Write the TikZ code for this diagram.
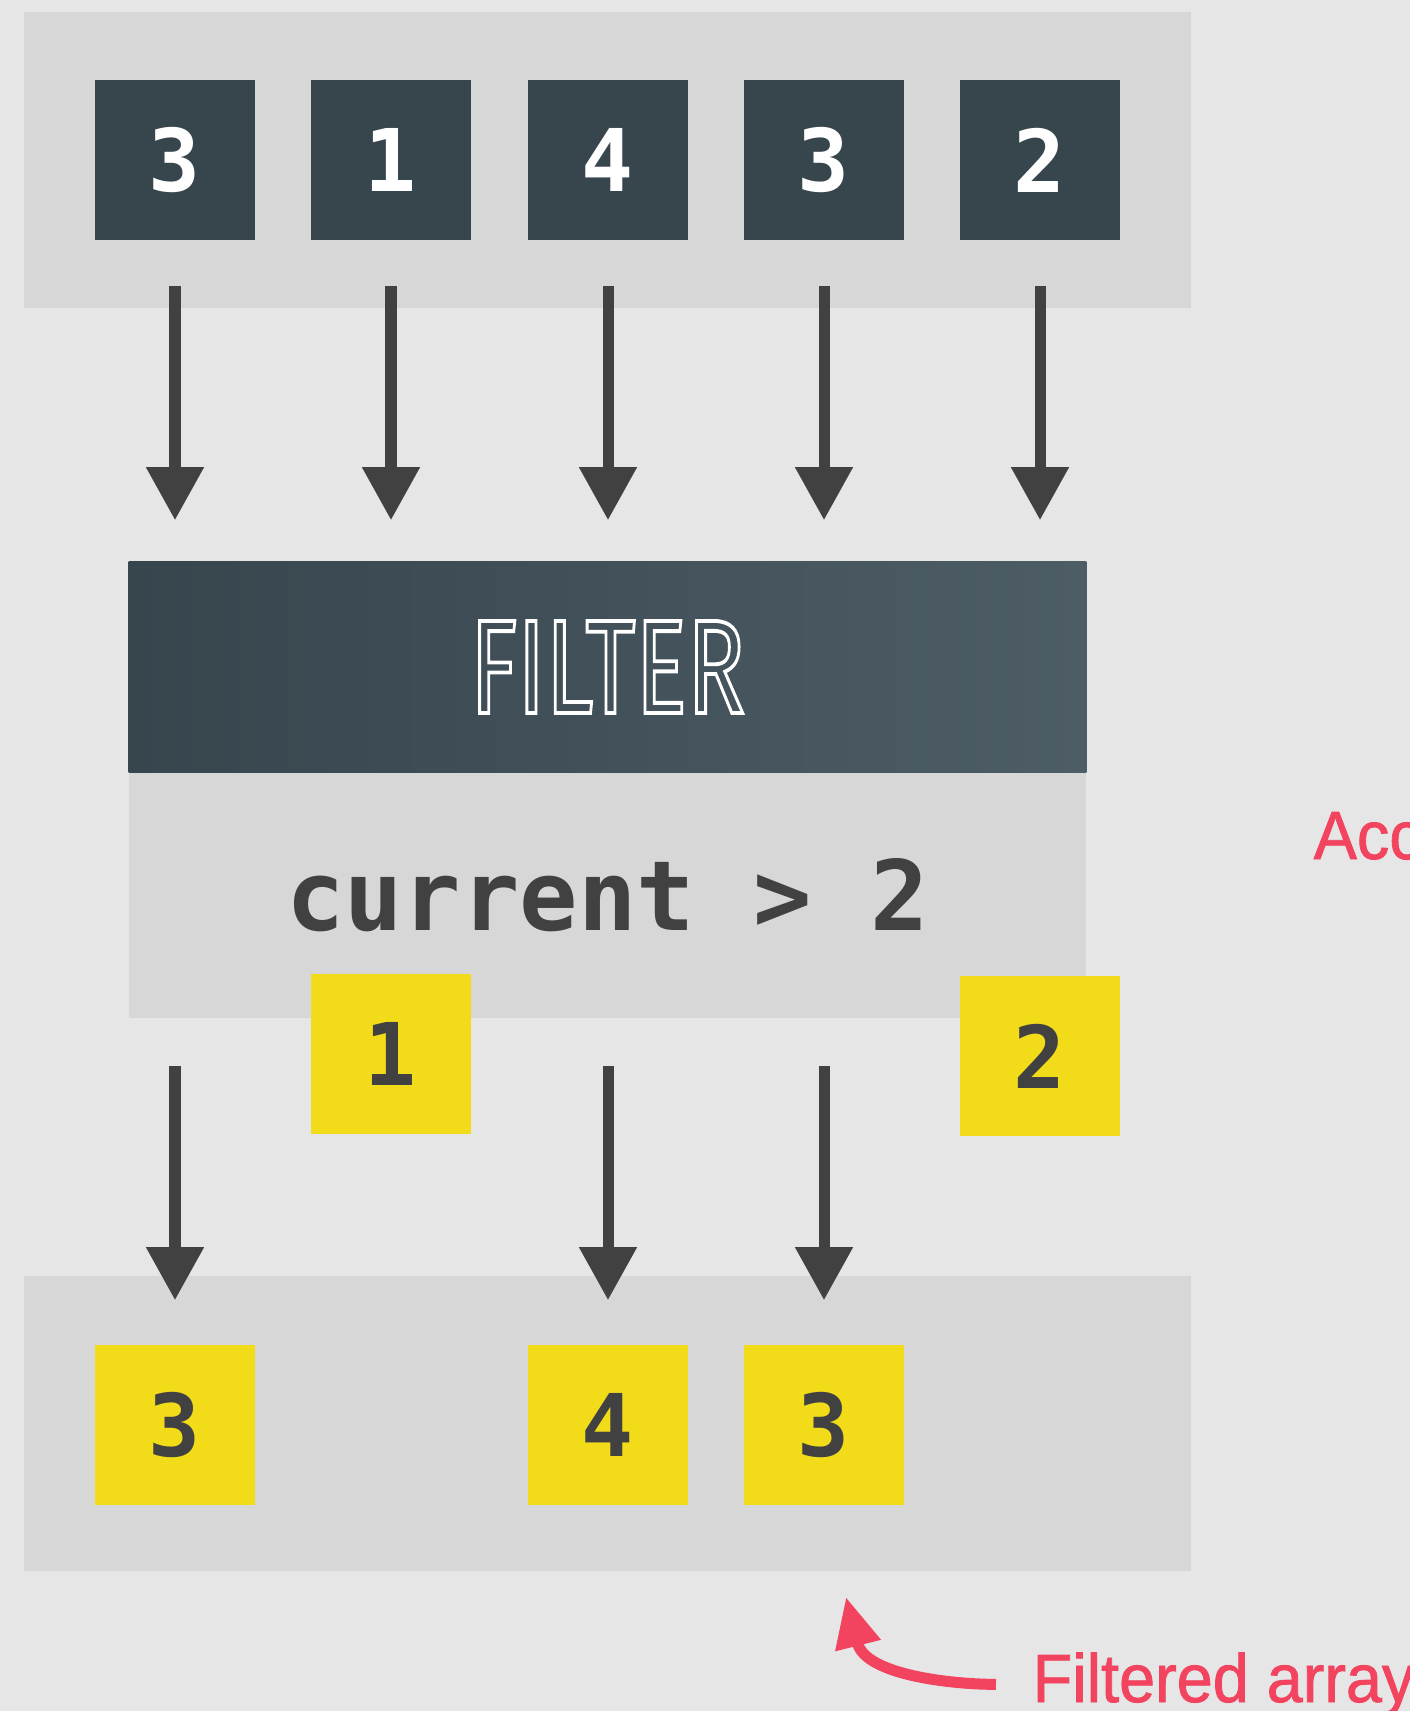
\documentclass[tikz,border=0pt]{standalone}
\usepackage{fontspec}
\setmainfont{Liberation Sans}
\newfontfamily\notefont{Liberation Sans}[FakeBold=1.2, FakeStretch=0.95]
\newfontfamily\digitfont{DejaVu Sans Mono}
\newfontfamily\filterfont{Fira Sans}
\usetikzlibrary{arrows.meta}
\definecolor{pagebg}{HTML}{E6E6E6}
\definecolor{panelgray}{HTML}{D7D7D7}
\definecolor{boxdark}{HTML}{37454D}
\definecolor{headright}{HTML}{4D5D66}
\definecolor{arrowgray}{HTML}{414141}
\definecolor{boxyellow}{HTML}{F2DC1A}
\definecolor{accred}{HTML}{F2435F}
% outlined text (stroke only)
\newcommand{\outlinetext}[1]{\special{pdf:literal direct 1 Tr 1.1 w}#1\special{pdf:literal direct 0 Tr}}
\tikzset{
  inbox/.style={fill=boxdark, text=white, minimum size=1.6cm, inner sep=0pt,
    font=\digitfont\bfseries\fontsize{24.6}{24.6}\selectfont},
  outbox/.style={inbox, fill=boxyellow, text=arrowgray},
  flow/.style={draw=arrowgray, line width=0.11cm,
    -{Triangle[width=0.55cm,length=0.53cm]}},
  note/.style={text=accred, inner sep=0pt, font=\notefont\fontsize{19.4}{19.4}\selectfont}
}
\begin{document}
\begin{tikzpicture}[x=0.01cm, y=0.01cm]
    % Background and panels
    \fill[pagebg] (0,0) rectangle (1410,-1711);
    \useasboundingbox (0,0) rectangle (1410,-1711);
    \fill[panelgray] (24,-12) rectangle (1191,-308);
    \fill[panelgray] (24,-1276) rectangle (1191,-1571);

    % Input array
    \node[inbox] (t1) at (175,-160) {3};
    \node[inbox] (t2) at (391,-160) {1};
    \node[inbox] (t3) at (608,-160) {4};
    \node[inbox] (t4) at (824,-160) {3};
    \node[inbox] (t5) at (1040,-160) {2};

    % Filter box
    \node[left color=boxdark, right color=headright, minimum width=9.57cm,
      minimum height=2.1cm, inner sep=0pt, text=white] (fhead) at (607.5,-667)
      {\filterfont\fontsize{38}{38}\selectfont\scalebox{0.72}[1]{\outlinetext{FILTER}}};
    \node[fill=panelgray, text=arrowgray, minimum width=9.57cm, minimum height=2.44cm,
      inner sep=0pt, font=\digitfont\bfseries\fontsize{27.6}{27.6}\selectfont,
      anchor=north] (fbody) at (fhead.south) {current > 2};

    % Rejected values
    \node[outbox] (r2) at (391,-1054) {1};
    \node[outbox] (r5) at (1040,-1056) {2};

    % Filtered array
    \node[outbox] (b1) at (175,-1425) {3};
    \node[outbox] (b3) at (608,-1425) {4};
    \node[outbox] (b4) at (824,-1425) {3};

    % Arrows into the filter
    \draw[flow, shorten <=0.45cm, shorten >=0.41cm] (t1.south) -- (t1.south |- fhead.north);
    \draw[flow, shorten <=0.45cm, shorten >=0.41cm] (t2.south) -- (t2.south |- fhead.north);
    \draw[flow, shorten <=0.45cm, shorten >=0.41cm] (t3.south) -- (t3.south |- fhead.north);
    \draw[flow, shorten <=0.45cm, shorten >=0.41cm] (t4.south) -- (t4.south |- fhead.north);
    \draw[flow, shorten <=0.45cm, shorten >=0.41cm] (t5.south) -- (t5.south |- fhead.north);

    % Arrows out of the filter
    \draw[flow, shorten <=0.48cm, shorten >=0.44cm] (b1.north |- fbody.south) -- (b1.north);
    \draw[flow, shorten <=0.48cm, shorten >=0.44cm] (b3.north |- fbody.south) -- (b3.north);
    \draw[flow, shorten <=0.48cm, shorten >=0.44cm] (b4.north |- fbody.south) -- (b4.north);

    % Side notes
    \node[note, anchor=base west] (acc) at (1313,-859) {Acc};
    \node[note, anchor=base west] (flbl) at (1032,-1702) {Filtered array};
    \coordinate (ftip) at (846,-1597);
    \draw[accred, line width=0.11cm, -{Triangle[width=0.44cm,length=0.5cm]},
      shorten <=0.36cm] (flbl.west) to[out=180, in=-76] (ftip);
\end{tikzpicture}
\end{document}
